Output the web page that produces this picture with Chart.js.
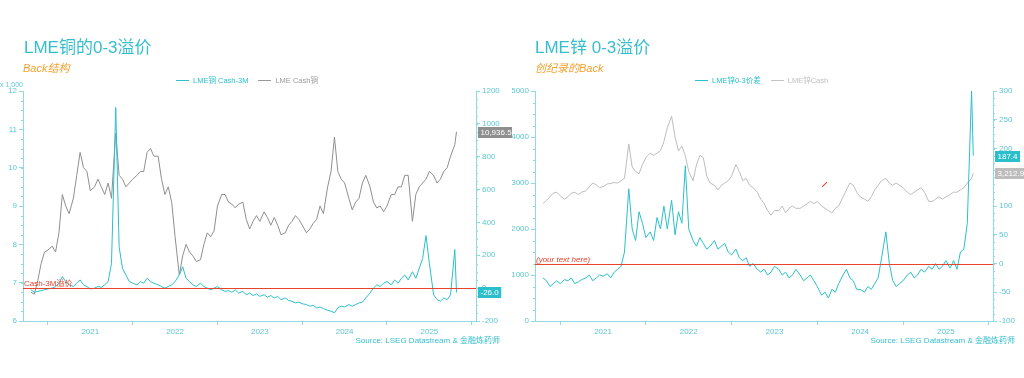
<!DOCTYPE html>
<html><head><meta charset="utf-8">
<script src="https://cdn.jsdelivr.net/npm/chart.js@4.4.1/dist/chart.umd.min.js"></script>
<style>
body{margin:0;background:#fff;width:1024px;height:378px;overflow:hidden;font-family:"Liberation Sans","Noto Sans CJK SC",sans-serif}
.panel{position:absolute;top:0;width:512px;height:378px}
.panel canvas{position:absolute;left:0;top:0}
.title{position:absolute;font-size:17px;color:#35bfcc;white-space:nowrap;line-height:20px}
.sub{position:absolute;font-size:11px;color:#f2a12e;font-style:italic;white-space:nowrap;line-height:13px}
.src{position:absolute;font-size:8px;color:#35bfcc;white-space:nowrap;line-height:10px}
.unit{position:absolute;font-size:7px;color:#5ccad6;white-space:nowrap;line-height:8px}
.leg{position:absolute;font-size:7.5px;white-space:nowrap;line-height:9px;display:flex;align-items:center}
.leg i{display:inline-block;width:13px;height:1px;margin:0 4px 0 0}
.leg span{margin-right:10px}
.arrow{position:absolute;width:7px;height:1px;background:#e8432c;transform:rotate(-45deg)}
</style>
</head><body>
<div class="panel" style="left:0">
  <canvas id="c1" width="512" height="378"></canvas>
  <div class="title" style="left:24px;top:38px">LME铜的0-3溢价</div>
  <div class="sub" style="left:23px;top:62px">Back结构</div>
  <div class="unit" style="left:0px;top:81px">x 1,000</div>
  <div class="leg" style="left:176px;top:76px"><i style="background:#2bbfcc"></i><span style="color:#2bbfcc">LME铜 Cash-3M</span><i style="background:#999"></i><span style="color:#999">LME Cash铜</span></div>
  <div class="src" style="right:12px;top:336px">Source: LSEG Datastream &amp; 金融炼药师</div>
</div>
<div class="panel" style="left:512px">
  <canvas id="c2" width="512" height="378"></canvas>
  <div class="title" style="left:23px;top:38px">LME锌 0-3溢价</div>
  <div class="sub" style="left:23px;top:62px">创纪录的Back</div>
  <div class="leg" style="left:183px;top:76px"><i style="background:#2bbfcc"></i><span style="color:#2bbfcc">LME锌0-3价差</span><i style="background:#c4c4c4"></i><span style="color:#c0c0c0">LME锌Cash</span></div>
  <div class="arrow" style="left:309px;top:184px"></div>
  <div class="src" style="right:9px;top:336px">Source: LSEG Datastream &amp; 金融炼药师</div>
</div>
<script>
// ---- data (decimal years, semi-monthly) ----
const DATES = [
 2020.80,2020.84,2020.88,2020.92,2020.96,
 2021.00,2021.05,2021.09,2021.13,2021.17,2021.21,2021.25,2021.30,2021.34,2021.38,2021.42,2021.46,2021.50,2021.55,2021.59,2021.63,2021.67,2021.71,2021.75,2021.80,2021.84,2021.88,2021.92,2021.96,
 2022.00,2022.05,2022.09,2022.13,2022.17,2022.21,2022.25,2022.30,2022.34,2022.38,2022.42,2022.46,2022.50,2022.55,2022.59,2022.63,2022.67,2022.71,2022.75,2022.80,2022.84,2022.88,2022.92,2022.96,
 2023.00,2023.05,2023.09,2023.13,2023.17,2023.21,2023.25,2023.30,2023.34,2023.38,2023.42,2023.46,2023.50,2023.55,2023.59,2023.63,2023.67,2023.71,2023.75,2023.80,2023.84,2023.88,2023.92,2023.96,
 2024.00,2024.05,2024.09,2024.13,2024.17,2024.21,2024.25,2024.30,2024.34,2024.38,2024.42,2024.46,2024.50,2024.55,2024.59,2024.63,2024.67,2024.71,2024.75,2024.80,2024.84,2024.88,2024.92,2024.96,
 2025.00,2025.05,2025.09,2025.13,2025.17,2025.21,2025.25,2025.30,2025.34,2025.38,2025.42,2025.46,2025.50,2025.55,2025.59,2025.63,2025.67,2025.71,2025.75,2025.80,2025.82
];
const CU_CASH = [
 6750,6700,7050,7500,7800,
 7850,7950,7800,8300,9300,9000,8800,9200,9800,10400,10000,9900,9400,9500,9700,9500,9300,9600,9200,10900,9800,9700,9500,9600,
 9700,9800,9900,9900,10400,10500,10300,10300,9700,9300,9500,9100,8200,7200,7700,8000,7800,7700,7550,7600,8000,8300,8200,8350,
 9000,9300,9300,9100,9050,8950,9050,9100,8650,8400,8600,8750,8600,8850,8700,8500,8700,8500,8250,8300,8500,8600,8750,8650,
 8500,8300,8400,8550,8650,9000,8800,9500,9900,10800,9900,9700,9600,9200,8900,9100,9200,9600,9800,9500,9100,8950,9000,8850,
 9000,9300,9300,9500,9500,9800,9800,8600,9300,9500,9600,9700,9900,9800,9600,9700,9900,10000,10300,10600,10936.5
];
const CU_SPREAD = [
 -10,-25,-20,-15,-10,
 -5,0,10,30,70,40,20,10,30,50,20,10,-5,0,10,5,20,40,150,1100,250,120,80,40,
 30,20,40,30,60,40,30,20,10,0,10,20,40,80,130,60,40,20,10,30,10,0,-10,0,
 10,-10,-20,-15,-25,-10,-30,-20,-40,-30,-45,-35,-50,-40,-55,-45,-60,-50,-70,-60,-75,-80,-90,-85,
 -95,-100,-110,-105,-120,-115,-125,-135,-140,-150,-120,-110,-115,-100,-110,-100,-90,-85,-60,-30,0,20,10,30,
 40,20,50,30,60,80,50,100,60,120,180,320,150,-40,-70,-80,-60,-70,-40,235,-26
];
const ZN_CASH = [
 2550,2620,2700,2780,2800,
 2720,2650,2700,2780,2800,2750,2800,2830,2920,3000,2960,2900,2920,2980,2990,3010,3000,3050,3100,3850,3350,3250,3200,3400,
 3550,3650,3600,3650,3700,3900,4200,4450,4000,3700,3800,3600,3250,3050,3400,3600,3550,3150,3000,2950,2850,2950,3000,3050,
 3150,3400,3250,3050,3100,2950,2900,2800,2650,2550,2400,2300,2400,2400,2500,2350,2450,2500,2450,2450,2500,2550,2600,2550,
 2600,2500,2450,2400,2350,2450,2500,2700,2850,3000,2950,2800,2700,2650,2600,2700,2850,2950,3050,3100,3000,2950,3000,2950,
 2900,2800,2750,2800,2850,2900,2800,2600,2600,2650,2700,2650,2700,2750,2800,2800,2850,2900,3000,3100,3212.9
];
const ZN_SPREAD = [
 -25,-30,-40,-35,-30,
 -35,-28,-30,-25,-35,-32,-28,-25,-20,-30,-25,-20,-22,-18,-25,-15,-10,-5,20,130,60,40,90,70,
 45,55,40,80,60,100,60,110,50,90,70,170,60,40,30,45,35,25,30,40,25,30,35,20,
 15,25,10,5,10,-5,0,-10,-15,-10,-20,-15,-5,-10,-20,-15,-25,-20,-10,-20,-30,-25,-20,-30,
 -40,-55,-50,-60,-45,-50,-35,-20,-10,-25,-30,-45,-45,-50,-40,-45,-35,-25,10,55,0,-30,-40,-35,
 -30,-20,-15,-25,-20,-10,-15,-5,-10,0,-10,-5,5,-8,5,-10,20,25,70,300,187.4
];
const YEARS = [2021,2022,2023,2024,2025];
const X_MIN = 2020.706, X_MAX = 2026.05;

const TEAL = '#2bbfcc', AX = '#8fd9e1', TXT = '#5cc6d2', RED = '#e8432c';
const FONT = '"Liberation Sans", "Noto Sans CJK SC", sans-serif';

const pts = vals => DATES.map((t,i)=>({x:t,y:vals[i]}));
const fmt1 = v => v.toLocaleString('en-US',{minimumFractionDigits:1,maximumFractionDigits:1});

const tagPlugin = {
  id:'tags',
  afterDraw(chart, args, opts){
    const ctx = chart.ctx; ctx.save();
    ctx.font = '8px ' + FONT;
    const right = chart.scales[opts.rightAxis];
    (opts.items||[]).forEach(it=>{
      const ds = chart.data.datasets[it.ds];
      const last = ds.data[ds.data.length-1];
      const sc = chart.scales[ds.yAxisID];
      const y = Math.round(sc.getPixelForValue(last.y));
      const text = fmt1(last.y);
      const w = ctx.measureText(text).width + 5;
      const x = right.left + 2;
      ctx.fillStyle = it.bg; ctx.fillRect(x, y-5, w, 11);
      ctx.fillStyle = '#fff'; ctx.textBaseline='middle'; ctx.textAlign='left';
      ctx.fillText(text, x+2.5, y+0.5);
    });
    ctx.restore();
  }
};
const zeroPlugin = {
  id:'zeroLine',
  afterDatasetsDraw(chart, args, opts){
    const ctx = chart.ctx, a = chart.chartArea;
    const y = Math.round(chart.scales[opts.axis].getPixelForValue(0)) + 0.5;
    ctx.save();
    ctx.strokeStyle = RED; ctx.lineWidth = 1;
    ctx.beginPath(); ctx.moveTo(a.left, y); ctx.lineTo(a.right, y); ctx.stroke();
    ctx.fillStyle = RED; ctx.font = (opts.italic?'italic ':'') + '8px ' + FONT;
    ctx.textBaseline = 'bottom'; ctx.textAlign='left';
    ctx.fillText(opts.text, a.left + 1, y - 0.5);
    ctx.restore();
  }
};
const minorPlugin = {
  id:'minorTicks',
  afterDraw(chart, args, opts){
    const ctx = chart.ctx; ctx.save();
    ctx.strokeStyle = AX; ctx.lineWidth = 1;
    (opts.axes||[]).forEach(m=>{
      const sc = chart.scales[m.id];
      for (let v = sc.min; v <= sc.max + 1e-9; v += m.step){
        const y = Math.round(sc.getPixelForValue(v)) + 0.5;
        ctx.beginPath();
        if (sc.position==='left'){ ctx.moveTo(sc.right-2, y); ctx.lineTo(sc.right, y); }
        else { ctx.moveTo(sc.left, y); ctx.lineTo(sc.left+2, y); }
        ctx.stroke();
      }
    });
    ctx.restore();
  }
};

function xScale(){
  return {
    type:'linear', min:X_MIN, max:X_MAX,
    afterBuildTicks: s => { const t=[]; YEARS.forEach(y=>{t.push({value:y});t.push({value:y+0.5});}); t.push({value:YEARS[YEARS.length-1]+1}); s.ticks=t; },
    afterFit: s => { s.height = 20; },
    ticks:{autoSkip:false, maxRotation:0, color:TXT, font:{size:8,family:FONT}, padding:2,
      callback: v => (Math.abs(v%1-0.5)<1e-6) ? String(Math.floor(v)) : ''},
    grid:{drawOnChartArea:false, tickLength:4, tickColor: c => (c.tick && Math.abs(c.tick.value%1)<1e-6) ? AX : 'rgba(0,0,0,0)'},
    border:{color:AX}
  };
}
function yScale(pos, min, max, step, width, cb){
  return {
    position:pos, min, max,
    afterFit: s => { s.width = width; },
    ticks:{stepSize:step, color:TXT, font:{size:8,family:FONT}, padding:2, callback:cb},
    grid:{drawOnChartArea:false, tickLength:4, tickColor:AX},
    border:{color:AX}
  };
}
function lineDs(label, vals, color, axis, order){
  return {label, data:pts(vals), yAxisID:axis, borderColor:color, borderWidth:1, pointRadius:0, tension:0, order};
}
const common = {
  responsive:false, animation:false, parsing:false,
  layout:{padding:{top:91, bottom:37, left:0, right:0}},
  plugins:{legend:{display:false}, tooltip:{enabled:false}}
};

new Chart(document.getElementById('c1'), {
  type:'line',
  data:{datasets:[
    lineDs('LME铜 Cash-3M', CU_SPREAD, TEAL, 'yR', 1),
    lineDs('LME Cash铜', CU_CASH, '#8f8f8f', 'yL', 2)
  ]},
  options:Object.assign({}, common, {
    scales:{
      x:xScale(),
      yL:yScale('left', 6000, 12000, 1000, 23, v=>String(v/1000)),
      yR:yScale('right', -200, 1200, 200, 36, v=>String(v))
    },
    plugins:Object.assign({}, common.plugins, {
      tags:{rightAxis:'yR', items:[{ds:1,bg:'#8f8f8f'},{ds:0,bg:TEAL}]},
      zeroLine:{axis:'yR', text:'Cash-3M溢价', italic:false},
      minorTicks:{axes:[{id:'yL',step:250},{id:'yR',step:50}]}
    })
  }),
  plugins:[zeroPlugin, tagPlugin, minorPlugin]
});

new Chart(document.getElementById('c2'), {
  type:'line',
  data:{datasets:[
    lineDs('LME锌0-3价差', ZN_SPREAD, TEAL, 'yR', 1),
    lineDs('LME锌Cash', ZN_CASH, '#bdbdbd', 'yL', 2)
  ]},
  options:Object.assign({}, common, {
    scales:{
      x:xScale(),
      yL:yScale('left', 0, 5000, 1000, 23, v=>String(v)),
      yR:yScale('right', -100, 300, 50, 31, v=>String(v))
    },
    plugins:Object.assign({}, common.plugins, {
      tags:{rightAxis:'yR', items:[{ds:0,bg:TEAL},{ds:1,bg:'#bdbdbd'}]},
      zeroLine:{axis:'yR', text:'(your text here)', italic:true},
      minorTicks:{axes:[{id:'yL',step:250},{id:'yR',step:12.5}]}
    })
  }),
  plugins:[zeroPlugin, tagPlugin, minorPlugin]
});
</script>
</body></html>
